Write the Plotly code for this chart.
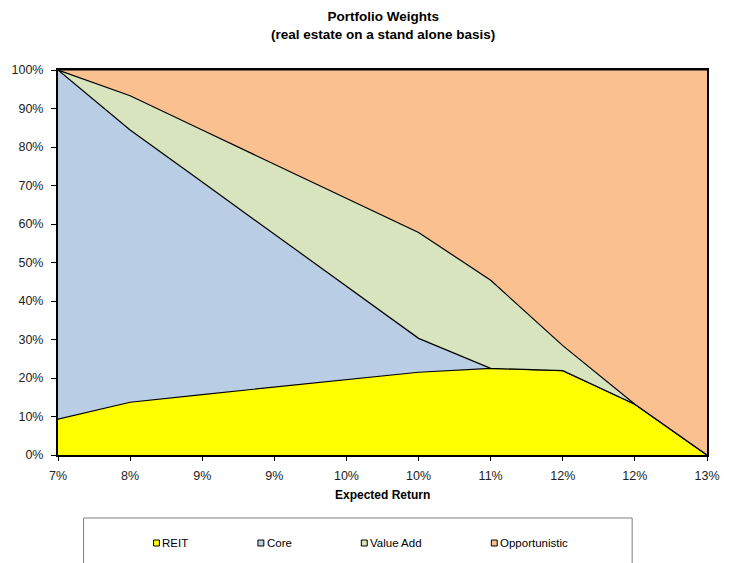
import plotly.graph_objects as go

# Expected-return points (category labels as shown on the axis)
return_labels = ["7%", "8%", "9%", "9%", "10%", "10%", "11%", "12%", "12%", "13%"]

# Portfolio weights (%) per asset class at each expected-return point
reit = [9.3, 13.7, 15.7, 17.6, 19.5, 21.5, 22.5, 21.9, 13.2, 0.0]
core = [90.7, 70.7, 55.2, 39.8, 24.3, 8.8, 0.0, 0.0, 0.0, 0.0]
value_add = [0.0, 8.9, 13.5, 18.2, 22.9, 27.5, 22.9, 6.5, 0.0, 0.0]
opportunistic = [0.0, 6.7, 15.6, 24.4, 33.3, 42.2, 54.6, 71.6, 86.8, 100.0]

series_names = ["REIT", "Core", "Value Add", "Opportunistic"]
series_values = [reit, core, value_add, opportunistic]
series_colors = ["#FFFF00", "#B9CDE5", "#D7E4BD", "#FAC090"]

FONT = "Liberation Sans, Arial, sans-serif"
W, H = 732, 563
L, R, T, B = 58, 15, 70, 108
PW, PH = W - L - R, H - T - B


def px_x(x):
    return (x - L) / PW


def px_y(y):
    return (H - B - y) / PH


x = list(range(len(return_labels)))

fig = go.Figure()
for name, vals, col in zip(series_names, series_values, series_colors):
    fig.add_trace(go.Scatter(
        x=x, y=vals, name=name, mode="lines", stackgroup="one",
        line=dict(color="black", width=1.2), fillcolor=col,
        showlegend=False, hoverinfo="x+y+name",
    ))

shapes = []
annotations = []

# Title
annotations.append(dict(
    text="<b>Portfolio Weights<br>(real estate on a stand alone basis)</b>",
    xref="paper", yref="paper", x=0.5, y=px_y(7), xanchor="center", yanchor="top",
    showarrow=False, font=dict(family=FONT, size=13.5, color="black"),
))

# Axis title
annotations.append(dict(
    text="<b>Expected Return</b>", xref="paper", yref="paper",
    x=0.5, y=px_y(495), xanchor="center", yanchor="middle",
    showarrow=False, font=dict(family=FONT, size=12, color="black"),
))

# Legend box with entries
shapes.append(dict(
    type="rect", xref="paper", yref="paper",
    x0=px_x(84), x1=px_x(641), y0=px_y(518), y1=px_y(590),
    line=dict(color="#7F7F7F", width=1), fillcolor="white", layer="above",
))
legend_x = [155, 261, 366, 498]
for name, col, lx in zip(series_names, series_colors, legend_x):
    shapes.append(dict(
        type="rect", xref="paper", yref="paper",
        x0=px_x(lx), x1=px_x(lx + 6), y0=px_y(540), y1=px_y(546),
        line=dict(color="black", width=1), fillcolor=col, layer="above",
    ))
    annotations.append(dict(
        text=name, xref="paper", yref="paper", x=px_x(lx + 7), y=px_y(543),
        xanchor="left", yanchor="middle", showarrow=False,
        font=dict(family=FONT, size=11.5, color="black"),
    ))

fig.update_layout(
    width=W, height=H,
    margin=dict(l=L, r=R, t=T, b=B),
    paper_bgcolor="white", plot_bgcolor="white",
    font=dict(family=FONT, size=12, color="#222"),
    showlegend=False,
    shapes=shapes, annotations=annotations,
    xaxis=dict(
        range=[0, len(return_labels) - 1], tickmode="array",
        tickvals=x, ticktext=return_labels,
        showgrid=False, zeroline=False,
        showline=True, linecolor="black", linewidth=2, mirror=True,
        ticks="outside", ticklen=4, tickcolor="black",
        ticklabelstandoff=4,
        tickfont=dict(family=FONT, size=12.5, color="#222"),
    ),
    yaxis=dict(
        range=[0, 100], dtick=10, ticksuffix="%",
        showgrid=False, zeroline=False,
        showline=True, linecolor="black", linewidth=2, mirror=True,
        ticks="outside", ticklen=5, tickcolor="black",
        ticklabelstandoff=5,
        tickfont=dict(family=FONT, size=12.5, color="#222"),
    ),
)

fig.write_html("out.html")
